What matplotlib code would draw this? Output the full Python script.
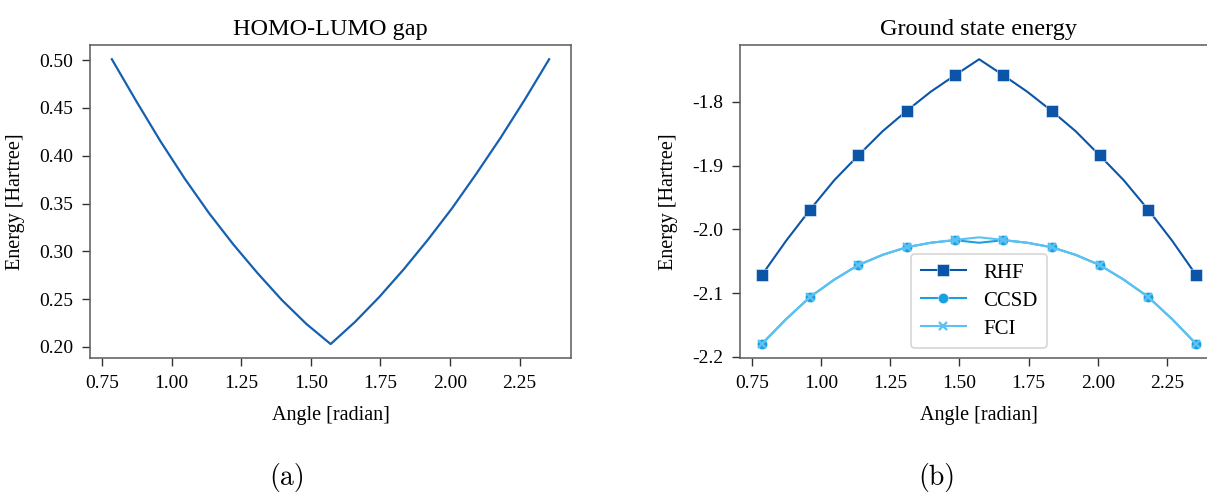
import numpy as np
import matplotlib
matplotlib.use("Agg")
import matplotlib.pyplot as plt

plt.rcParams["font.family"] = ["Liberation Serif", "DejaVu Serif"]
plt.rcParams["axes.unicode_minus"] = False

# Bond angle grid (radian)
angles = [0.785, 0.873, 0.960, 1.047, 1.134, 1.222, 1.309, 1.396, 1.484, 1.571,
          1.658, 1.745, 1.833, 1.920, 2.007, 2.094, 2.182, 2.269, 2.356]

# HOMO-LUMO gap (Hartree)
gap = [0.501, 0.457, 0.415, 0.376, 0.340, 0.307, 0.277, 0.249, 0.224, 0.203,
       0.226, 0.252, 0.281, 0.312, 0.345, 0.381, 0.419, 0.459, 0.501]

# Ground state energies (Hartree)
e_rhf = [-2.072, -2.018, -1.969, -1.923, -1.884, -1.846, -1.814, -1.784, -1.758, -1.733,
         -1.758, -1.784, -1.814, -1.846, -1.884, -1.923, -1.969, -2.018, -2.072]
e_ccsd = [-2.180, -2.141, -2.106, -2.079, -2.056, -2.040, -2.028, -2.021, -2.017, -2.021,
          -2.017, -2.021, -2.028, -2.040, -2.056, -2.079, -2.106, -2.141, -2.180]
e_fci = [-2.180, -2.141, -2.106, -2.079, -2.056, -2.040, -2.028, -2.021, -2.0165, -2.0125,
         -2.0165, -2.021, -2.028, -2.040, -2.056, -2.079, -2.106, -2.141, -2.180]

c_rhf = "#0b55a8"
c_ccsd = "#1a9fe2"
c_fci = "#5cc2f2"
c_gap = "#1560b0"

W, H = 1207, 493
fig = plt.figure(figsize=(W / 100, H / 100), dpi=100)
ax1 = fig.add_axes([90 / W, 1 - 358.3 / H, (571 - 90) / W, (358.3 - 45) / H])
ax2 = fig.add_axes([740 / W, 1 - 358.3 / H, (1218 - 740) / W, (358.3 - 45) / H])

def style(ax):
    for s in ax.spines.values():
        s.set_color("#5a5a5a")
        s.set_linewidth(1.1)
    ax.tick_params(labelsize=14, length=6, width=1.0, color="#333333", pad=6)

# (a) HOMO-LUMO gap
ax1.plot(angles, gap, color=c_gap, lw=1.6)
ax1.set_title("HOMO-LUMO gap", fontsize=17.5, pad=7)
ax1.set_xlabel("Angle [radian]", fontsize=14.5, labelpad=10)
ax1.set_ylabel("Energy [Hartree]", fontsize=14.5, labelpad=10)
ax1.set_xticks([0.75, 1.00, 1.25, 1.50, 1.75, 2.00, 2.25])
ax1.set_yticks([0.20, 0.25, 0.30, 0.35, 0.40, 0.45, 0.50])
ax1.xaxis.set_major_formatter(matplotlib.ticker.FormatStrFormatter("%.2f"))
ax1.yaxis.set_major_formatter(matplotlib.ticker.FormatStrFormatter("%.2f"))
style(ax1)

# (b) Ground state energy
mk_edge = (1, 1, 1, 0.6)
ax2.plot(angles, e_rhf, color=c_rhf, lw=1.5, marker="s", ms=8.5, markevery=2,
         mec=mk_edge, mew=0.6, label="RHF")
ax2.plot(angles, e_ccsd, color=c_ccsd, lw=1.5, marker="o", ms=7.5, markevery=2,
         mec=mk_edge, mew=0.6, label="CCSD")
ax2.plot(angles, e_fci, color=c_fci, lw=1.5, marker="x", ms=6, markevery=2,
         mew=1.7, label="FCI")
ax2.set_title("Ground state energy", fontsize=17.5, pad=7)
ax2.set_xlabel("Angle [radian]", fontsize=14.5, labelpad=10)
ax2.set_ylabel("Energy [Hartree]", fontsize=14.5, labelpad=10)
ax2.set_xticks([0.75, 1.00, 1.25, 1.50, 1.75, 2.00, 2.25])
ax2.set_yticks([-2.2, -2.1, -2.0, -1.9, -1.8])
ax2.xaxis.set_major_formatter(matplotlib.ticker.FormatStrFormatter("%.2f"))
ax2.yaxis.set_major_formatter(matplotlib.ticker.FormatStrFormatter("%.1f"))
style(ax2)
leg = ax2.legend(loc="lower center", fontsize=15, handlelength=2.2,
                 framealpha=0.8, edgecolor="#cccccc", borderpad=0.45,
                 labelspacing=0.4, bbox_to_anchor=(0.5, 0.0))
leg.get_frame().set_linewidth(1.2)

# Sub-figure captions
fig.text(287 / W, 1 - 478 / H, "(a)", family="cmr10", fontsize=20,
         ha="center", va="center")
fig.text(937 / W, 1 - 478 / H, "(b)", family="cmr10", fontsize=20,
         ha="center", va="center")

fig.savefig("out.png", dpi=100)
